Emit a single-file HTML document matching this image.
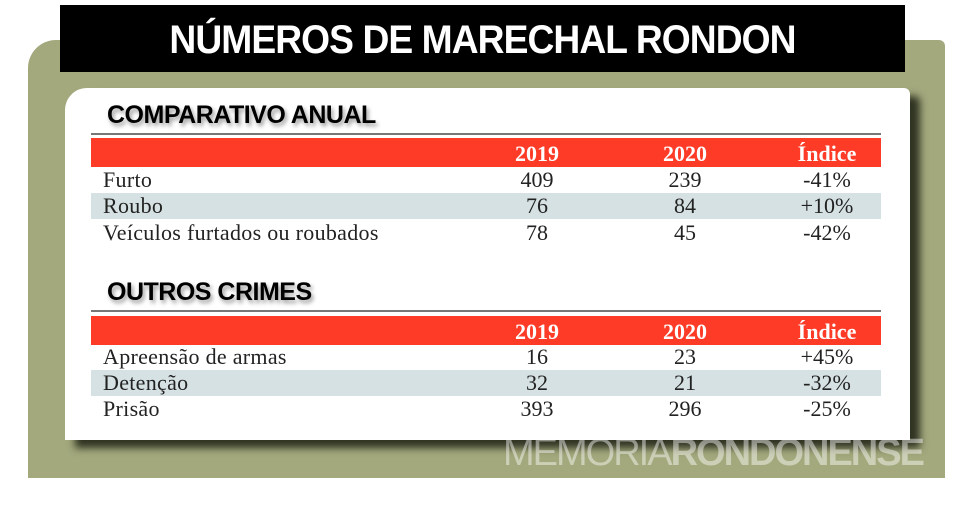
<!DOCTYPE html>
<html><head><meta charset="utf-8"><style>
body{margin:0;width:980px;height:508px;background:#fff;position:relative;overflow:hidden;font-family:"Liberation Serif",serif}
.abs{position:absolute}
.green{left:28px;top:40px;width:917px;height:438px;background:#a3a97d;border-radius:28px 6px 0 0}
.black{left:60px;top:5px;width:845px;height:67px;background:#000}
.title{left:60px;top:5px;width:845px;height:67px;color:#fff;font:bold 40px "Liberation Sans",sans-serif;text-align:center;line-height:70px;letter-spacing:-1px;transform:scaleX(0.93)}
.card{left:65px;top:88px;width:845px;height:352px;background:#fff;border-radius:22px 6px 0 0;box-shadow:10px 8px 8px #2f3322}
.h{font:bold 25px "Liberation Sans",sans-serif;color:#000;letter-spacing:-0.5px;left:107px;text-shadow:2px 3px 4px #999}
.line{left:91px;width:790px;height:2px;background:#777}
.red{left:91px;width:790px;height:29px;background:#fe3b27;color:#fff;font-weight:bold;font-size:22px}
.row{left:91px;width:790px;height:26px;font-size:22px;color:#222;line-height:26px}
.blue{background:#d6e1e3}
.c{position:absolute;text-align:center;width:100px}
.l{position:absolute;left:12px;letter-spacing:0.3px}
</style></head><body>
<div class="abs green"></div>
<div class="abs black"></div>
<div class="abs title">NÚMEROS DE MARECHAL RONDON</div>
<div class="abs card"></div>
<div class="abs h" style="top:101px">COMPARATIVO ANUAL</div>
<div class="abs line" style="top:133px"></div>
<div class="abs red" style="top:138px;line-height:31px"><span class="c" style="left:396px">2019</span><span class="c" style="left:544px">2020</span><span class="c" style="left:686px">Índice</span></div>
<div class="abs row" style="top:167px"><span class="l">Furto</span><span class="c" style="left:396px">409</span><span class="c" style="left:544px">239</span><span class="c" style="left:686px">-41%</span></div>
<div class="abs row blue" style="top:193px"><span class="l">Roubo</span><span class="c" style="left:396px">76</span><span class="c" style="left:544px">84</span><span class="c" style="left:686px">+10%</span></div>
<div class="abs row" style="top:220px"><span class="l">Veículos furtados ou roubados</span><span class="c" style="left:396px">78</span><span class="c" style="left:544px">45</span><span class="c" style="left:686px">-42%</span></div>
<div class="abs h" style="top:278px">OUTROS CRIMES</div>
<div class="abs line" style="top:310px"></div>
<div class="abs red" style="top:316px;line-height:31px"><span class="c" style="left:396px">2019</span><span class="c" style="left:544px">2020</span><span class="c" style="left:686px">Índice</span></div>
<div class="abs row" style="top:344px"><span class="l">Apreensão de armas</span><span class="c" style="left:396px">16</span><span class="c" style="left:544px">23</span><span class="c" style="left:686px">+45%</span></div>
<div class="abs row blue" style="top:370px"><span class="l">Detenção</span><span class="c" style="left:396px">32</span><span class="c" style="left:544px">21</span><span class="c" style="left:686px">-32%</span></div>
<div class="abs row" style="top:396px"><span class="l">Prisão</span><span class="c" style="left:396px">393</span><span class="c" style="left:544px">296</span><span class="c" style="left:686px">-25%</span></div>
<div class="abs" style="left:503px;top:432px;font:38px 'Liberation Sans',sans-serif;color:rgba(255,255,255,0.45);letter-spacing:-2px;white-space:nowrap">MEMÓRIA<b>RONDONENSE</b></div>
</body></html>
